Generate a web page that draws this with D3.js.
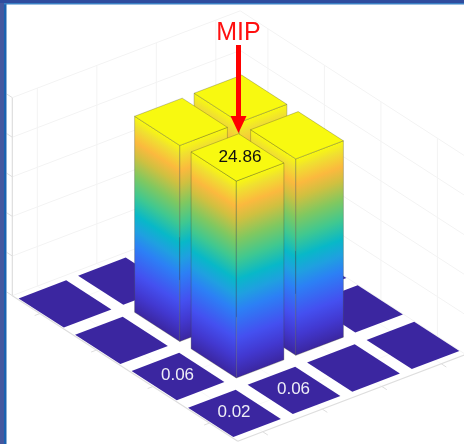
<!DOCTYPE html>
<html>
<head>
<meta charset="utf-8">
<script src="https://cdn.jsdelivr.net/npm/d3@7"></script>
<style>
  html, body { margin: 0; padding: 0; background: #fff; }
  #chart-container { width: 464px; height: 444px; overflow: hidden; }
  svg { display: block; filter: blur(0.4px); }
  text { font-family: "Liberation Sans", sans-serif; }
</style>
</head>
<body>
<div id="chart-container"></div>
<script>
const width = 464;
const height = 444;

// bar heights, one row per j (front row first)
const row0 = [0.02, 0.06, 0.02, 0.01];
const row1 = [0.06, 24.86, 24.8, 0.02];
const row2 = [0.02, 24.75, 24.8, 0.01];
const row3 = [0.01, 0.02, 0.01, 0.01];
const rows = [row0, row1, row2, row3];

const labelledCells = [[0, 0], [1, 0], [0, 1], [1, 1]];
const xTicks = [0, 1, 2, 3];
const yTicks = [0, 1, 2, 3];
const zTicks = [0, 5, 10, 15, 20, 25];

const colorStops = [0, 0.05, 0.13, 0.2, 0.3, 0.4, 0.5, 0.58, 0.66, 0.8, 0.9, 1];
const colorValues = ["#f8f910", "#f0e030", "#fbb93e", "#d0c040", "#80c860", "#40c890",
  "#08b8c8", "#1fa0e0", "#2c80f5", "#4450f0", "#4238d0", "#3b26a0"];

const barWidth = 0.8;
const iMin = -0.42, iMax = 3.41, jMin = -0.5, jMax = 3.49, zMax = 25;

const iToX = d3.scaleLinear().domain([0, 3]).range([234.5, 413]);
const iToY = d3.scaleLinear().domain([0, 3]).range([413.5, 345.5]);
const jToX = d3.scaleLinear().domain([0, 3]).range([0, -169.5]);
const jToY = d3.scaleLinear().domain([0, 3]).range([0, -109.5]);
const zToY = d3.scaleLinear().domain([0, zMax]).range([0, -198]);

const project = (i, j, z) => [iToX(i) + jToX(j), iToY(i) + jToY(j) + zToY(z)];

const svg = d3.select("#chart-container")
  .append("svg")
  .attr("width", width)
  .attr("height", height);

const defs = svg.append("defs");
const path = d3.line();

function segment(g, a, b, color, w) {
  g.append("path")
    .attr("d", path([project(...a), project(...b)]))
    .attr("fill", "none")
    .attr("stroke", color)
    .attr("stroke-width", w);
}

// walls and floor
const grid = svg.append("g");
const gridColor = "#f3f3f3";

xTicks.forEach(t => {
  segment(grid, [t, jMax, 0], [t, jMax, zMax], gridColor, 1);
  segment(grid, [t, jMin, 0], [t, jMax, 0], "#f8f8f8", 1);
});
yTicks.forEach(t => {
  segment(grid, [iMax, t, 0], [iMax, t, zMax], gridColor, 1);
  segment(grid, [iMin, t, 0], [iMax, t, 0], "#f8f8f8", 1);
});
zTicks.forEach(t => {
  segment(grid, [iMin, jMax, t], [iMax, jMax, t], gridColor, 1);
  segment(grid, [iMax, jMin, t], [iMax, jMax, t], gridColor, 1);
});

// axis lines and their ticks
const axisColor = "#dedede";
segment(grid, [iMin, jMax, 0], [iMin, jMax, zMax], axisColor, 1.2);
segment(grid, [iMin, jMin, 0], [iMin, jMax, 0], axisColor, 1.2);
segment(grid, [iMin, jMin, 0], [iMax, jMin, 0], axisColor, 1.2);
xTicks.forEach(t => segment(grid, [t, jMin, 0], [t, jMin - 0.09, 0], axisColor, 1));
yTicks.forEach(t => segment(grid, [iMin, t, 0], [iMin - 0.09, t, 0], axisColor, 1));
zTicks.forEach(t => segment(grid, [iMin, jMax, t], [iMin, jMax + 0.1, t], axisColor, 1));

const colorAt = d3.scaleLinear().domain(colorStops).range(colorValues);

function faceGradient(id, top, edge, drop) {
  // gradient runs across the face so the colour bands follow the bar's top edge
  const len = Math.hypot(edge[0], edge[1]);
  const nx = -edge[1] / len, ny = edge[0] / len;
  const d = drop * ny;
  const g = defs.append("linearGradient")
    .attr("id", id)
    .attr("gradientUnits", "userSpaceOnUse")
    .attr("x1", top[0])
    .attr("y1", top[1])
    .attr("x2", top[0] + nx * d)
    .attr("y2", top[1] + ny * d);
  colorStops.forEach((s, k) => {
    g.append("stop").attr("offset", s).attr("stop-color", colorValues[k]);
  });
}

// painter's order: far cells first
const cells = [];
rows.forEach((row, j) => row.forEach((value, i) => cells.push({i, j, value})));
cells.sort((a, b) => (b.i + b.j) - (a.i + a.j));

const bars = svg.append("g");
const edgeColor = "rgba(70, 70, 50, 0.3)";

cells.forEach(d => {
  const h = barWidth / 2;
  const i0 = d.i - h, i1 = d.i + h, j0 = d.j - h, j1 = d.j + h;

  if (d.value < 1) {
    bars.append("path")
      .attr("d", path([
        project(i0, j0, d.value), project(i1, j0, d.value),
        project(i1, j1, d.value), project(i0, j1, d.value)
      ]) + "Z")
      .attr("fill", colorAt(1));
    return;
  }

  const front = project(i0, j0, d.value);
  const left = project(i0, j1, d.value);
  const right = project(i1, j0, d.value);
  const drop = -zToY(d.value);
  const idL = `left-${d.i}-${d.j}`;
  const idR = `right-${d.i}-${d.j}`;
  faceGradient(idL, front, [left[0] - front[0], left[1] - front[1]], drop);
  faceGradient(idR, front, [right[0] - front[0], right[1] - front[1]], drop);

  bars.append("path")
    .attr("d", path([
      project(i0, j1, d.value), project(i0, j0, d.value),
      project(i0, j0, 0), project(i0, j1, 0)
    ]) + "Z")
    .attr("fill", `url(#${idL})`)
    .attr("stroke", edgeColor);

  bars.append("path")
    .attr("d", path([
      project(i0, j0, d.value), project(i1, j0, d.value),
      project(i1, j0, 0), project(i0, j0, 0)
    ]) + "Z")
    .attr("fill", `url(#${idR})`)
    .attr("stroke", edgeColor);

  bars.append("path")
    .attr("d", path([
      project(i0, j0, d.value), project(i1, j0, d.value),
      project(i1, j1, d.value), project(i0, j1, d.value)
    ]) + "Z")
    .attr("fill", colorAt(0))
    .attr("stroke", edgeColor);
});

// value labels
labelledCells.forEach(([i, j]) => {
  const v = rows[j][i];
  const p = project(i, j, v);
  svg.append("text")
    .attr("x", p[0] + (v > 1 ? 2.5 : -0.5))
    .attr("y", p[1] + (v > 1 ? 5 : 3.5))
    .attr("text-anchor", "middle")
    .attr("font-size", v > 1 ? 17.2 : 17)
    .attr("fill", v > 1 ? "#111" : "#eeeef6")
    .text(v.toFixed(2));
});

// MIP annotation
const peak = project(1, 1, rows[1][1]);
const arrowX = peak[0] + 1;
svg.append("text")
  .attr("x", arrowX)
  .attr("y", 39.5)
  .attr("text-anchor", "middle")
  .attr("font-family", "Noto Sans")
  .attr("font-size", 25)
  .attr("fill", "#ff1010")
  .text("MIP");

svg.append("path")
  .attr("d", path([[arrowX, 45], [arrowX, 118]]))
  .attr("stroke", "#ff0000")
  .attr("stroke-width", 5);

svg.append("path")
  .attr("d", path([[arrowX - 8, 116], [arrowX + 8, 116], [arrowX, 133]]) + "Z")
  .attr("fill", "#ff0000");

// window frame
svg.append("rect").attr("x", 0).attr("y", 0).attr("width", 4).attr("height", height).attr("fill", "#44589f");
svg.append("rect").attr("x", 4).attr("y", 0).attr("width", 2.5).attr("height", height).attr("fill", "#1a62b0");
svg.append("rect").attr("x", 0).attr("y", 0).attr("width", width).attr("height", 3).attr("fill", "#2f4c9e");
svg.append("rect").attr("x", 4).attr("y", 3).attr("width", width).attr("height", 1.5).attr("fill", "#3a7fc4");
</script>
</body>
</html>
